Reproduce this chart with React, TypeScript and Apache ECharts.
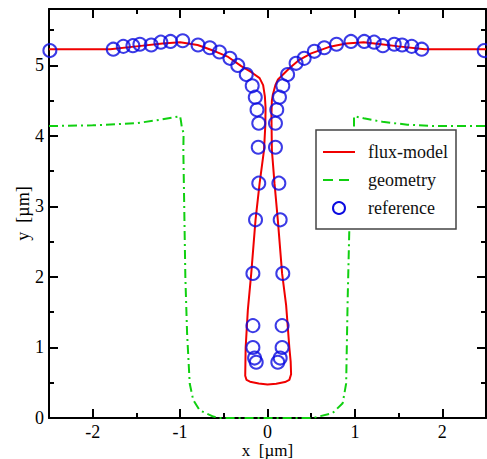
import React, { useEffect, useRef } from "react";
import * as echarts from "echarts";

// flux-model contour (ordered along the curve)
const fluxX = [-2.5, -1.8, -1.5, -1.2, -1.0, -0.8, -0.6, -0.45, -0.3, -0.18, -0.09, -0.05, -0.03, -0.022, -0.025, -0.04, -0.09, -0.137, -0.186, -0.225, -0.25, -0.255, -0.24, -0.2, -0.1, 0, 0.1, 0.2, 0.25, 0.27, 0.265, 0.25, 0.213, 0.167, 0.118, 0.08, 0.05, 0.045, 0.05, 0.06, 0.09, 0.12, 0.25, 0.365, 0.5, 0.7, 0.9, 1.1, 1.3, 1.5, 1.8, 2.5];
const fluxY = [5.23, 5.23, 5.27, 5.31, 5.33, 5.29, 5.2, 5.12, 4.99, 4.9, 4.82, 4.72, 4.56, 4.4, 4.15, 3.8, 3.33, 2.81, 2.05, 1.53, 1.0, 0.6, 0.54, 0.515, 0.49, 0.475, 0.485, 0.51, 0.54, 0.62, 0.8, 1.0, 1.6, 2.05, 2.81, 3.33, 3.8, 4.3, 4.5, 4.58, 4.72, 4.8, 4.96, 5.08, 5.17, 5.26, 5.31, 5.33, 5.3, 5.27, 5.23, 5.23];

// geometry profile
const geoX = [-2.5, -2.0, -1.5, -1.23, -1.0, -0.99, -0.98, -0.96, -0.963, -0.94, -0.92, -0.89, -0.85, -0.776, -0.62, -0.55, 0.52, 0.745, 0.86, 0.9, 0.917, 0.936, 0.97, 0.99, 0.99, 1.1, 1.315, 1.6, 1.89, 2.5];
const geoY = [4.14, 4.15, 4.18, 4.23, 4.28, 4.21, 4.12, 4.04, 3.8, 2.0, 1.2, 0.49, 0.255, 0.11, 0.02, 0, 0, 0.07, 0.21, 0.49, 1.67, 2.67, 3.9, 4.1, 4.28, 4.25, 4.2, 4.16, 4.14, 4.14];

// reference points
const refX = [-2.49, -1.765, -1.65, -1.54, -1.46, -1.33, -1.22, -1.11, -0.97, -0.795, -0.66, -0.55, -0.43, -0.34, -0.243, -0.175, -0.14, -0.12, -0.1, -0.106, -0.1, -0.137, -0.167, -0.167, -0.167, -0.148, -0.129,
  0.118, 0.145, 0.167, 0.167, 0.175, 0.145, 0.13, 0.091, 0.091, 0.106, 0.137, 0.175, 0.23, 0.327, 0.42, 0.536, 0.65, 0.79, 0.955, 1.107, 1.22, 1.32, 1.45, 1.54, 1.65, 1.765, 2.48];
const refY = [5.21, 5.23, 5.27, 5.28, 5.3, 5.29, 5.33, 5.34, 5.35, 5.29, 5.25, 5.19, 5.1, 5.0, 4.87, 4.71, 4.55, 4.37, 4.18, 3.84, 3.33, 2.81, 2.05, 1.31, 1.0, 0.85, 0.79,
  0.79, 0.85, 1.0, 1.31, 2.05, 2.81, 3.33, 3.84, 4.18, 4.37, 4.55, 4.71, 4.87, 5.03, 5.1, 5.2, 5.25, 5.3, 5.34, 5.34, 5.33, 5.28, 5.3, 5.29, 5.27, 5.23, 5.21];

const X_MIN = -2.5;
const X_MAX = 2.5;
const Y_MIN = 0;
const Y_MAX = 5.8;
const legendNames = ["flux-model", "geometry", "reference"];
const xName = "x \u00a0[µm]";
const yName = "y \u00a0[µm]";

const FONT = "Liberation Serif";
const RED = "#f00000";
const GREEN = "#10d010";
const BLUE = "#0a0ae0";
const DASH = [9, 4, 2, 4];

const zip = (a: number[], b: number[]) => a.map((v, i) => [v, b[i]]);

export default function App() {
  const ref = useRef<HTMLDivElement>(null);
  useEffect(() => {
    if (!ref.current) return;
    const chart = echarts.init(ref.current, undefined, { renderer: "svg" });
    const axisLine = { show: true, onZero: false, lineStyle: { color: "#000", width: 2 } };
    const axisTick = { show: true, inside: true, length: 9, lineStyle: { color: "#000", width: 2 } };
    const minorTick = { show: true, splitNumber: 2, length: 5, lineStyle: { color: "#000", width: 2 } };
    const label = { color: "#000", fontFamily: FONT, fontSize: 18 };
    const xBase = { type: "value", min: X_MIN, max: X_MAX, splitNumber: 5, axisLine, axisTick, minorTick, splitLine: { show: false } };
    const yBase = { type: "value", min: Y_MIN, max: Y_MAX, interval: 1, axisLine, axisTick, minorTick, splitLine: { show: false } };
    chart.setOption({
      animation: false,
      backgroundColor: "#fff",
      grid: { left: 49, right: 1, top: 9, bottom: 41, containLabel: false, outerBoundsMode: "none" },
      xAxis: [
        { ...xBase, position: "bottom", axisLabel: { ...label, margin: 7, lineHeight: 14, showMinLabel: false, showMaxLabel: false },
          name: xName, nameLocation: "middle", nameGap: 24, nameMoveOverlap: false,
          nameTextStyle: { ...label, fontSize: 17, lineHeight: 16 } },
        { ...xBase, position: "top", axisLabel: { show: false } },
      ],
      yAxis: [
        { ...yBase, position: "left", axisLabel: { ...label, margin: 5, showMaxLabel: false },
          name: yName, nameLocation: "middle", nameGap: 17, nameMoveOverlap: false, nameTextStyle: { ...label } },
        { ...yBase, position: "right", axisLabel: { show: false } },
      ],
      series: [
        { name: legendNames[1], type: "line", data: zip(geoX, geoY), showSymbol: false, symbol: "none",
          lineStyle: { color: GREEN, width: 2, type: DASH }, z: 2 },
        { name: legendNames[0], type: "line", data: zip(fluxX, fluxY), showSymbol: false, symbol: "none",
          lineStyle: { color: RED, width: 2 }, z: 3 },
        { name: legendNames[2], type: "scatter", data: zip(refX, refY), symbol: "circle", symbolSize: 13,
          itemStyle: { color: "rgba(0,0,0,0)", borderColor: BLUE, borderWidth: 2 }, z: 4 },
      ],
      graphic: [
        { type: "rect", z: 100, shape: { x: 316, y: 130, width: 140, height: 99 }, style: { fill: "#fff", stroke: "#444", lineWidth: 1.5 } },
        { type: "line", z: 101, shape: { x1: 323, y1: 152, x2: 355, y2: 152 }, style: { stroke: RED, lineWidth: 2 } },
        { type: "line", z: 101, shape: { x1: 323, y1: 180, x2: 355, y2: 180 }, style: { stroke: GREEN, lineWidth: 2, lineDash: [10, 6] } },
        { type: "circle", z: 101, shape: { cx: 339, cy: 208, r: 6 }, style: { fill: "none", stroke: BLUE, lineWidth: 2 } },
        ...legendNames.map((n, i) => ({
          type: "text", z: 101, x: 368, y: 152 + i * 28,
          style: { text: n, fill: "#111", fontFamily: FONT, fontSize: 18, verticalAlign: "middle", align: "left" },
        })),
      ],
    });
    return () => chart.dispose();
  }, []);
  return <div ref={ref} style={{ position: "absolute", left: 0, top: 0, width: 487, height: 459 }} />;
}
